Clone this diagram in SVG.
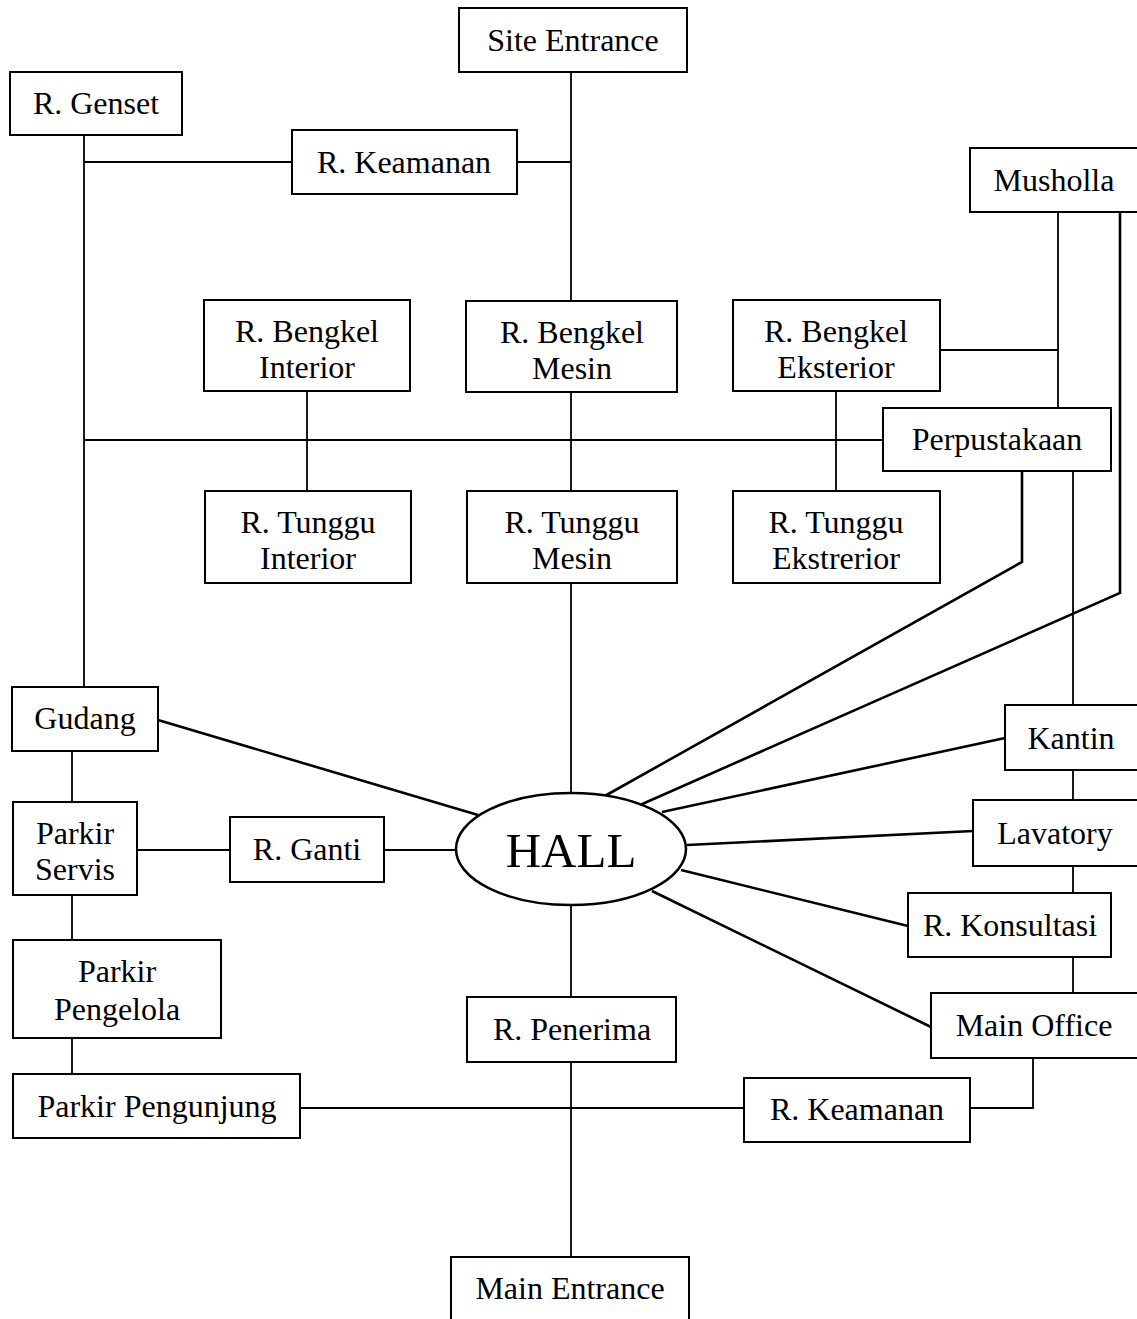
<svg xmlns="http://www.w3.org/2000/svg" width="1137" height="1319" viewBox="0 0 1137 1319">
<style>
rect{fill:#fff;stroke:#000;stroke-width:2}
rect.bg{stroke:none}
ellipse{fill:#fff;stroke:#000;stroke-width:2.5}
text{font-family:"Liberation Serif","Times New Roman",serif;font-size:32px;fill:#000;text-anchor:middle;dominant-baseline:central}
.c line,.c polyline{stroke:#000;stroke-width:1.8;fill:none}
.c .t{stroke-width:2.6}
</style>
<rect class="bg" width="1137" height="1319"/>
<g class="c" id="connectors">
<line x1="571" y1="72" x2="571" y2="301"/>
<line x1="517" y1="162" x2="571" y2="162"/>
<polyline points="84,135 84,687"/>
<line x1="84" y1="162" x2="292" y2="162"/>
<line x1="84" y1="440" x2="883" y2="440"/>
<line x1="307" y1="391" x2="307" y2="491"/>
<line x1="571" y1="392" x2="571" y2="491"/>
<line x1="836" y1="391" x2="836" y2="491"/>
<line x1="571" y1="583" x2="571" y2="793"/>
<line x1="1058" y1="212" x2="1058" y2="408"/>
<line x1="940" y1="350" x2="1058" y2="350"/>
<polyline class="t" points="1120,212 1120,593 640,805"/>
<polyline class="t" points="1022,471 1022,562 603,797"/>
<line x1="1073" y1="471" x2="1073" y2="705"/>
<line x1="1073" y1="770" x2="1073" y2="800"/>
<line x1="1073" y1="866" x2="1073" y2="893"/>
<line x1="1073" y1="957" x2="1073" y2="993"/>
<line class="t" x1="662" y1="812" x2="1005" y2="738"/>
<line class="t" x1="687" y1="845" x2="973" y2="831"/>
<line class="t" x1="681" y1="870" x2="908" y2="926"/>
<line class="t" x1="652" y1="891" x2="931" y2="1027"/>
<line class="t" x1="158" y1="720" x2="478" y2="815"/>
<line x1="72" y1="751" x2="72" y2="802"/>
<line x1="137" y1="850" x2="230" y2="850"/>
<line x1="384" y1="850" x2="456" y2="850"/>
<line x1="72" y1="895" x2="72" y2="940"/>
<line x1="72" y1="1038" x2="72" y2="1074"/>
<line x1="300" y1="1108" x2="744" y2="1108"/>
<polyline points="970,1108 1033,1108 1033,1058"/>
<line x1="571" y1="905" x2="571" y2="997"/>
<line x1="571" y1="1062" x2="571" y2="1257"/>
</g>
<g id="site-entrance"><rect x="459" y="8" width="228" height="64"/><text x="573" y="40">Site Entrance</text></g>
<g id="r-genset"><rect x="10" y="72" width="172" height="63"/><text x="96" y="103">R. Genset</text></g>
<g id="r-keamanan-top"><rect x="292" y="130" width="225" height="64"/><text x="404" y="162">R. Keamanan</text></g>
<g id="musholla"><rect x="970" y="148" width="170" height="64"/><text x="1054" y="180">Musholla</text></g>
<g id="r-bengkel-interior"><rect x="204" y="300" width="206" height="91"/><text x="307" y="331">R. Bengkel</text><text x="307" y="367">Interior</text></g>
<g id="r-bengkel-mesin"><rect x="466" y="301" width="211" height="91"/><text x="572" y="332">R. Bengkel</text><text x="572" y="368">Mesin</text></g>
<g id="r-bengkel-eksterior"><rect x="733" y="300" width="207" height="91"/><text x="836" y="331">R. Bengkel</text><text x="836" y="367">Eksterior</text></g>
<g id="perpustakaan"><rect x="883" y="408" width="228" height="63"/><text x="997" y="439">Perpustakaan</text></g>
<g id="r-tunggu-interior"><rect x="205" y="491" width="206" height="92"/><text x="308" y="522">R. Tunggu</text><text x="308" y="558">Interior</text></g>
<g id="r-tunggu-mesin"><rect x="467" y="491" width="210" height="92"/><text x="572" y="522">R. Tunggu</text><text x="572" y="558">Mesin</text></g>
<g id="r-tunggu-eksterior"><rect x="733" y="491" width="207" height="92"/><text x="836" y="522">R. Tunggu</text><text x="836" y="558">Ekstrerior</text></g>
<g id="hall"><ellipse cx="571" cy="849" rx="115" ry="56"/><text x="571" y="850" style="font-size:49px">HALL</text></g>
<g id="gudang"><rect x="12" y="687" width="146" height="64"/><text x="85" y="718">Gudang</text></g>
<g id="parkir-servis"><rect x="13" y="802" width="124" height="93"/><text x="75" y="833">Parkir</text><text x="75" y="869">Servis</text></g>
<g id="r-ganti"><rect x="230" y="817" width="154" height="65"/><text x="307" y="849">R. Ganti</text></g>
<g id="parkir-pengelola"><rect x="13" y="940" width="208" height="98"/><text x="117" y="971">Parkir</text><text x="117" y="1009">Pengelola</text></g>
<g id="parkir-pengunjung"><rect x="13" y="1074" width="287" height="64"/><text x="157" y="1106">Parkir Pengunjung</text></g>
<g id="kantin"><rect x="1005" y="705" width="135" height="65"/><text x="1071" y="738">Kantin</text></g>
<g id="lavatory"><rect x="973" y="800" width="167" height="66"/><text x="1055" y="833">Lavatory</text></g>
<g id="r-konsultasi"><rect x="908" y="893" width="203" height="64"/><text x="1010" y="925">R. Konsultasi</text></g>
<g id="main-office"><rect x="931" y="993" width="209" height="65"/><text x="1034" y="1025">Main Office</text></g>
<g id="r-penerima"><rect x="467" y="997" width="209" height="65"/><text x="572" y="1029">R. Penerima</text></g>
<g id="r-keamanan-bottom"><rect x="744" y="1078" width="226" height="64"/><text x="857" y="1109">R. Keamanan</text></g>
<g id="main-entrance"><rect x="451" y="1257" width="238" height="80"/><text x="570" y="1288">Main Entrance</text></g>
</svg>
